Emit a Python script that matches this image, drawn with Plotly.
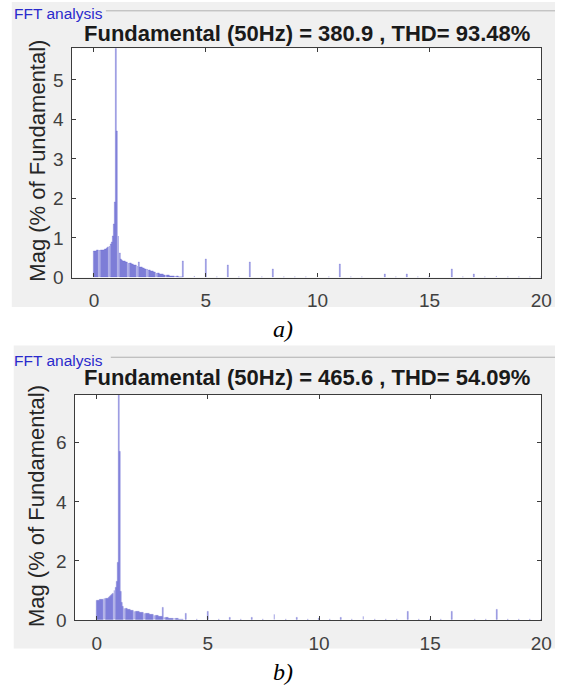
import plotly.graph_objects as go

W, H = 566, 693

# ---------------- data (harmonic order, magnitude in % of fundamental) ----------------
dense_order = [round(i * 0.05, 2) for i in range(81)]  # 0.00 ... 4.00 (axis categories)
a_dense_mag = [0.67, 0.67, 0.67, 0.68, 0.68, 0.68, 0.69, 0.69, 0.70, 0.70,
               0.71, 0.72, 0.74, 0.76, 0.79, 0.83, 0.90, 1.05, 1.35, 1.90,
               100.0, 3.70, 1.05, 0.62, 0.47, 0.44, 0.42, 0.41, 0.40, 0.39,
               0.38, 0.37, 0.36, 0.35, 0.34, 0.33, 0.32, 0.31, 0.30, 0.29,
               0.38, 0.27, 0.26, 0.25, 0.24, 0.23, 0.22, 0.21, 0.20, 0.19,
               0.18, 0.17, 0.16, 0.15, 0.14, 0.13, 0.12, 0.11, 0.10, 0.09,
               0.09, 0.08, 0.08, 0.07, 0.06, 0.06, 0.05, 0.05, 0.04, 0.04,
               0.04, 0.03, 0.03, 0.03, 0.03, 0.03, 0.02, 0.02, 0.02, 0.02,
               0.40]
sparse_order = [4.5, 5.0, 5.5, 6.0, 6.5, 7.0, 7.5, 8.0, 8.5, 9.0, 9.5, 10.0,
                10.5, 11.0, 11.5, 12.0, 12.5, 13.0, 13.5, 14.0, 14.5, 15.0,
                15.5, 16.0, 16.5, 17.0, 17.5, 18.0, 18.5, 19.0, 19.5, 20.0]
a_sparse_mag = [0.03, 0.47, 0.02, 0.32, 0.02, 0.38, 0.02, 0.20, 0.02, 0.02, 0.02, 0.02,
                0.02, 0.33, 0.01, 0.02, 0.01, 0.09, 0.01, 0.09, 0.01, 0.02,
                0.01, 0.21, 0.01, 0.09, 0.01, 0.03, 0.01, 0.02, 0.01, 0.01]

b_dense_mag = [0.66, 0.67, 0.67, 0.68, 0.69, 0.69, 0.70, 0.71, 0.72, 0.73,
               0.74, 0.76, 0.78, 0.81, 0.85, 0.90, 0.98, 1.10, 1.30, 1.95,
               100.0, 5.70, 0.95, 0.60, 0.45, 0.40, 0.38, 0.37, 0.36, 0.35,
               0.34, 0.33, 0.32, 0.31, 0.30, 0.29, 0.28, 0.27, 0.27, 0.26,
               0.25, 0.24, 0.24, 0.23, 0.22, 0.21, 0.21, 0.20, 0.19, 0.18,
               0.18, 0.17, 0.16, 0.15, 0.14, 0.14, 0.13, 0.12, 0.11, 0.10,
               0.42, 0.09, 0.08, 0.07, 0.07, 0.06, 0.05, 0.05, 0.04, 0.04,
               0.03, 0.03, 0.03, 0.03, 0.02, 0.02, 0.02, 0.02, 0.02, 0.02,
               0.20]
b_sparse_mag = [0.02, 0.30, 0.02, 0.07, 0.01, 0.07, 0.01, 0.17, 0.01, 0.07, 0.01, 0.03,
                0.01, 0.07, 0.01, 0.10, 0.01, 0.02, 0.01, 0.30, 0.01, 0.02,
                0.01, 0.30, 0.01, 0.02, 0.01, 0.35, 0.01, 0.02, 0.01, 0.01]

a_order = dense_order + sparse_order
a_mag = a_dense_mag + a_sparse_mag
b_order = dense_order + sparse_order
b_mag = b_dense_mag + b_sparse_mag

x_ticks = [0, 5, 10, 15, 20]
a_yticks = [0, 1, 2, 3, 4, 5]
b_yticks = [0, 2, 4, 6]
a_title = "Fundamental (50Hz) = 380.9 , THD= 93.48%"
b_title = "Fundamental (50Hz) = 465.6 , THD= 54.09%"
panel_label = "FFT analysis"
y_label = "Mag (% of Fundamental)"

# ---------------- helpers (pixel -> paper) ----------------
def px(x):
    return x / W

def py(y):
    return 1 - y / H

bar_fill = "rgba(95,95,212,0.55)"
bar_line = "rgba(70,70,200,0.55)"

fig = go.Figure()
fig.add_trace(go.Bar(x=a_order, y=a_mag, width=0.04, xaxis="x", yaxis="y",
                     marker=dict(color=bar_fill, line=dict(width=0.5, color=bar_line)),
                     showlegend=False))
fig.add_trace(go.Bar(x=b_order, y=b_mag, width=0.04, xaxis="x2", yaxis="y2",
                     marker=dict(color=bar_fill, line=dict(width=0.5, color=bar_line)),
                     showlegend=False))

axis_col = "#3c3c3c"
tick_font = dict(family="Liberation Sans, Arial, sans-serif", size=19, color="#404040")
common_x = dict(range=[-1, 20], tickvals=x_ticks, ticks="inside", ticklen=4, tickcolor=axis_col,
                showline=True, linecolor=axis_col, linewidth=1.3, mirror="ticks",
                showgrid=False, zeroline=False, tickfont=tick_font, fixedrange=True,
                ticklabelstandoff=6)
common_y = dict(ticks="inside", ticklen=4, tickcolor=axis_col,
                showline=True, linecolor=axis_col, linewidth=1.3, mirror="ticks",
                showgrid=False, zeroline=False, tickfont=tick_font, fixedrange=True,
                ticklabelstandoff=3)

fig.update_layout(
    width=W, height=H,
    margin=dict(l=0, r=0, t=0, b=0),
    paper_bgcolor="white",
    plot_bgcolor="white",
    bargap=0,
    xaxis=dict(domain=[px(73), px(552)], anchor="y", **common_x),
    yaxis=dict(domain=[py(282), py(49)], anchor="x", range=[0, 5.8], tickvals=a_yticks, **common_y),
    xaxis2=dict(domain=[px(76), px(552)], anchor="y2", **common_x),
    yaxis2=dict(domain=[py(630), py(401)], anchor="x2", range=[0, 7.63], tickvals=b_yticks, **common_y),
)

shapes = []
# gray panel backgrounds
for (x0, y0, x1, y1) in [(12, 2, 566, 312), (14, 351, 566, 659)]:
    shapes.append(dict(type="rect", xref="paper", yref="paper", x0=px(x0), x1=px(x1),
                       y0=py(y1), y1=py(y0), fillcolor="#f0f0f0", line=dict(width=0), layer="below"))
# white plot areas
for (x0, y0, x1, y1) in [(73, 49, 552, 282), (76, 401, 552, 630)]:
    shapes.append(dict(type="rect", xref="paper", yref="paper", x0=px(x0), x1=px(x1),
                       y0=py(y1), y1=py(y0), fillcolor="white", line=dict(width=0), layer="below"))
# panel border lines
for (x0, y) in [(108, 11), (113, 363)]:
    shapes.append(dict(type="line", xref="paper", yref="paper", x0=px(x0), x1=px(566),
                       y0=py(y), y1=py(y), line=dict(color="#b0b0b0", width=1)))
fig.update_layout(shapes=shapes)

ann = []
for (y_txt, y_title, title, y_mid, lab, y_lab) in [
        (14, 34, a_title, 163, "a)", 334),
        (366, 384, b_title, 514, "b)", 683)]:
    ann.append(dict(text=panel_label, xref="paper", yref="paper", x=px(12), y=py(y_txt),
                    xanchor="left", yanchor="middle", showarrow=False,
                    font=dict(family="Liberation Sans, Arial, sans-serif", size=15.5, color="#2a2acc")))
    ann.append(dict(text="<b>" + title + "</b>", xref="paper", yref="paper", x=px(313), y=py(y_title),
                    xanchor="center", yanchor="middle", showarrow=False,
                    font=dict(family="Liberation Sans, Arial, sans-serif", size=22, color="#1a1a1a")))
    ann.append(dict(text=y_label, xref="paper", yref="paper", x=px(38), y=py(y_mid),
                    xanchor="center", yanchor="middle", showarrow=False, textangle=-90,
                    font=dict(family="Liberation Sans, Arial, sans-serif", size=22, color="#262626")))
    ann.append(dict(text="<i>" + lab + "</i>", xref="paper", yref="paper", x=px(289), y=py(y_lab),
                    xanchor="center", yanchor="middle", showarrow=False,
                    font=dict(family="Liberation Serif, Times New Roman, serif", size=24, color="black")))
fig.update_layout(annotations=ann)

fig.write_html("out.html")
